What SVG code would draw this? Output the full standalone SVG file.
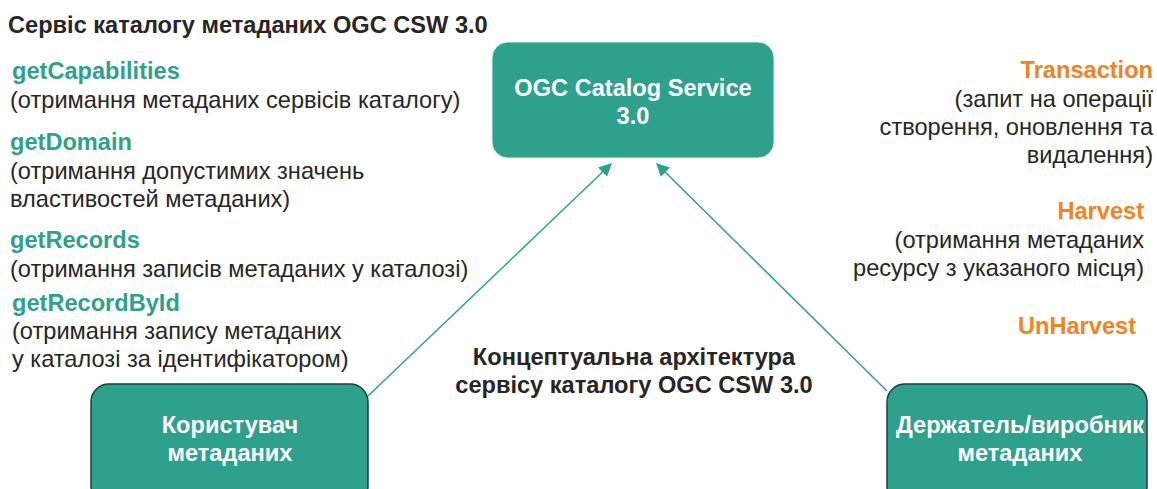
<svg xmlns="http://www.w3.org/2000/svg" width="1157" height="489" viewBox="0 0 1157 489">
<defs>
<style>
text{font-family:"Liberation Sans",Arial,sans-serif;font-size:23.6px;fill:#262626}
.b{font-weight:bold}
.g{fill:#2ea18d;font-weight:bold}
.o{fill:#f58220;font-weight:bold}
.w{fill:#ffffff;font-weight:bold;text-anchor:middle}
.r{text-anchor:end}
.c{text-anchor:middle}
.box{fill:#2ea18d}
.dk{stroke:#1f3d44;stroke-width:1.5}
.lt{stroke:#d8eee9;stroke-width:1}
.ln{stroke:#2ea18d;stroke-width:1.5;fill:none;marker-end:url(#ah)}
</style>
<marker id="ah" viewBox="0 0 10 10" refX="9" refY="5" markerWidth="13" markerHeight="13" markerUnits="userSpaceOnUse" orient="auto">
<path d="M0,0 L10,5 L0,10 z" fill="#2ea18d"/>
</marker>
</defs>
<rect width="1157" height="489" fill="#ffffff"/>
<text class="b" x="8" y="33">Сервіс каталогу метаданих OGC CSW 3.0</text>
<g id="left-ops">
<text class="g" x="12" y="79">getCapabilities</text>
<text x="10" y="108">(отримання метаданих сервісів каталогу)</text>
<text class="g" x="10" y="150">getDomain</text>
<text x="10" y="179">(отримання допустимих значень</text>
<text x="10" y="207">властивостей метаданих)</text>
<text class="g" x="10" y="248">getRecords</text>
<text x="10" y="277">(отримання записів метаданих у каталозі)</text>
<text class="g" x="12" y="311">getRecordById</text>
<text x="12" y="339">(отримання запису метаданих</text>
<text x="12" y="367">у каталозі за ідентифікатором)</text>
</g>
<g id="right-ops">
<text class="o r" x="1153" y="78">Transaction</text>
<text class="r" x="1153" y="107">(запит на операції</text>
<text class="r" x="1153" y="135">створення, оновлення та</text>
<text class="r" x="1153" y="163">видалення)</text>
<text class="o r" x="1144" y="219">Harvest</text>
<text class="r" x="1144" y="248">(отримання метаданих</text>
<text class="r" x="1144" y="276">ресурсу з указаного місця)</text>
<text class="o r" x="1136" y="334">UnHarvest</text>
</g>
<g id="caption">
<text class="b c" x="634" y="365">Концептуальна архітектура</text>
<text class="b c" x="634" y="393">сервісу каталогу OGC CSW 3.0</text>
</g>
<g id="connectors">
<line class="ln" x1="368" y1="396" x2="611" y2="164"/>
<line class="ln" x1="887" y1="391" x2="657" y2="164"/>
</g>
<g id="catalog-service">
<rect class="box lt" x="492" y="42" width="282" height="116" rx="16"/>
<text class="w" x="633" y="96">OGC Catalog Service</text>
<text class="w" x="633" y="124">3.0</text>
</g>
<g id="user">
<rect class="box dk" x="91" y="384" width="277" height="120" rx="18"/>
<text class="w" x="230" y="433">Користувач</text>
<text class="w" x="230" y="461">метаданих</text>
</g>
<g id="provider">
<rect class="box dk" x="887" y="384" width="260" height="120" rx="18"/>
<text class="w" x="1020" y="433">Держатель/виробник</text>
<text class="w" x="1020" y="461">метаданих</text>
</g>
</svg>
